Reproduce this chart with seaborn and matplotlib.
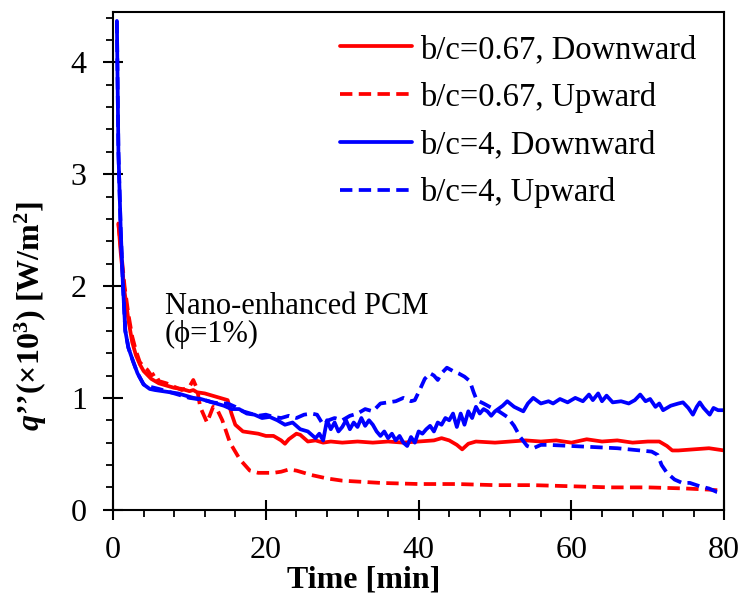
import numpy as np
import pandas as pd
import matplotlib
matplotlib.use("Agg")
import matplotlib.pyplot as plt
from matplotlib.ticker import MultipleLocator
import seaborn as sns

# ---------------- data ----------------
labels = ["b/c=0.67, Downward", "b/c=0.67, Upward", "b/c=4, Downward", "b/c=4, Upward"]

t_rs = [0.7, 1.0, 1.5, 2.0, 2.5, 3.0, 3.5, 4.0, 5.0, 6.0, 7.0, 8.0, 9.0, 10.0, 10.5, 11.0, 12.0, 13.0,
        14.0, 15.0, 15.5, 16.0, 17.0, 18.0, 19.0, 20.0, 21.0, 22.0, 22.5, 23.0, 24.0, 24.5, 25.5, 26.5,
        27.5, 28.5, 30, 32, 34, 36, 38, 40, 42, 43, 44, 45, 45.7, 46.5, 47.5, 50, 52, 54, 56, 58, 60,
        62, 64, 66, 68, 70, 71.5, 72.5, 73.2, 74, 76, 78, 80]
q_rs = [2.56, 2.3, 1.95, 1.7, 1.5, 1.38, 1.3, 1.24, 1.17, 1.13, 1.11, 1.09, 1.08, 1.06, 1.07, 1.05,
        1.04, 1.02, 1.0, 0.98, 0.86, 0.76, 0.7, 0.69, 0.68, 0.66, 0.66, 0.62, 0.59, 0.63, 0.68, 0.67,
        0.61, 0.62, 0.6, 0.61, 0.6, 0.61, 0.6, 0.61, 0.6, 0.61, 0.62, 0.64, 0.62, 0.58, 0.54, 0.59,
        0.61, 0.6, 0.61, 0.62, 0.61, 0.62, 0.6, 0.63, 0.61, 0.62, 0.6, 0.61, 0.61, 0.57, 0.53, 0.53,
        0.54, 0.55, 0.53]

t_rd = [0.7, 1.0, 1.5, 2.0, 2.5, 3.0, 3.5, 4.0, 4.5, 5.0, 5.5, 6.0, 7.0, 8.0, 9.0, 10.0, 10.5, 11.0,
        11.4, 12.3, 13.1, 13.6, 14.3, 15.3, 16.6, 17.9, 19.0, 20.0, 21.0, 22.0, 23.0, 24.0, 26.0, 28.0,
        30, 35, 40, 45, 50, 55, 60, 65, 70, 75, 78, 80]
q_rd = [2.56, 2.35, 2.0, 1.75, 1.55, 1.42, 1.32, 1.28, 1.25, 1.2, 1.22, 1.15, 1.13, 1.1, 1.07, 1.1,
        1.16, 1.08, 0.92, 0.78, 0.92, 0.9, 0.8, 0.6, 0.45, 0.35, 0.33, 0.33, 0.33, 0.34, 0.36, 0.35,
        0.31, 0.28, 0.26, 0.24, 0.23, 0.23, 0.22, 0.22, 0.21, 0.2, 0.2, 0.19, 0.18, 0.17]

t_bs = [0.5, 0.7, 1.0, 1.3, 1.6, 2.0, 2.6, 3.2, 4.0, 4.8, 5.5, 6.5, 7.5, 8.5, 9.5, 10.5, 11.5, 12.5,
        13.5, 14.5, 15.5, 16.5, 17.5, 18.5, 19.5, 20.5, 21.5, 22.5, 23.5, 24.5, 25.5, 26.5, 27.0, 27.5,
        28.0, 28.5, 29.0, 29.5, 30.0, 30.5, 31.0, 31.5, 32.0, 32.5, 33.0, 33.5, 34.0, 34.5, 35.0, 35.5,
        36.0, 36.5, 37.0, 37.5, 38.0, 38.5, 39.0, 39.5, 40.0, 40.5, 41.0, 41.5, 42.0, 42.5, 43.0, 43.5,
        44.0, 44.5, 45.0, 45.5, 46.0, 46.5, 47.0, 47.5, 48.0, 48.5, 49.0, 49.5, 50.0, 51.0, 51.6, 52.5,
        53.7, 54.3, 55.0, 56.0, 57.0, 57.6, 58.5, 59.5, 60.5, 61.5, 62.3, 62.8, 63.5, 64.0, 64.6, 65.4,
        66.5, 67.5, 68.3, 69.0, 69.7, 70.3, 71.0, 71.5, 72.0, 73.0, 74.0, 74.6, 75.3, 75.9, 76.4, 76.8,
        77.3, 78.1, 78.6, 79.2, 80.0]
q_bs = [4.37, 3.2, 2.5, 2.0, 1.6, 1.45, 1.33, 1.22, 1.12, 1.08, 1.07, 1.06, 1.05, 1.04, 1.02, 1.0,
        0.99, 0.97, 0.95, 0.93, 0.9, 0.9, 0.86, 0.85, 0.82, 0.83, 0.8, 0.76, 0.78, 0.72, 0.7, 0.64,
        0.68, 0.62, 0.8, 0.72, 0.78, 0.7, 0.74, 0.8, 0.72, 0.78, 0.74, 0.82, 0.75, 0.8, 0.76, 0.7,
        0.66, 0.7, 0.64, 0.68, 0.62, 0.66, 0.6, 0.57, 0.65, 0.6, 0.7, 0.68, 0.72, 0.75, 0.7, 0.78,
        0.76, 0.82, 0.8, 0.86, 0.74, 0.86, 0.76, 0.88, 0.82, 0.92, 0.86, 0.9, 0.88, 0.84, 0.88, 0.93,
        0.97, 0.92, 0.88, 0.95, 1.0, 0.95, 0.97, 0.95, 0.99, 0.96, 1.0, 0.97, 1.03, 0.98, 1.04, 0.97,
        1.02, 0.96, 0.97, 0.95, 0.98, 1.03, 0.97, 0.99, 0.92, 0.95, 0.89, 0.93, 0.95, 0.96, 0.91, 0.85,
        0.92, 0.96, 0.91, 0.85, 0.91, 0.89, 0.89]

t_bd = [0.5, 0.7, 1.0, 1.3, 1.6, 2.0, 2.6, 3.2, 4.0, 4.8, 6.0, 8.0, 10.0, 12.0, 13.0, 14.0, 15.0,
        16.0, 17.0, 18.0, 19.0, 20.0, 21.0, 22.0, 23.0, 24.0, 25.0, 26.0, 26.7, 27.5, 28.2, 29.0, 30.0,
        31.0, 32.0, 33.0, 34.0, 35.0, 36.0, 37.0, 38.0, 39.0, 39.5, 40.2, 40.8, 41.5, 42.0, 42.5, 43.0,
        43.7, 44.5, 45.2, 46.0, 46.7, 47.2, 47.6, 48.5, 49.3, 50.5, 51.6, 52.5, 53.3, 54.2, 55.0, 56.0,
        57.0, 60.0, 63.0, 66.0, 69.0, 70.5, 71.3, 71.8, 72.5, 73.5, 74.5, 75.5, 76.8, 78.0, 79.0, 80.0]
q_bd = [4.37, 3.2, 2.5, 2.0, 1.6, 1.45, 1.33, 1.22, 1.12, 1.1, 1.08, 1.04, 1.0, 0.98, 0.96, 0.95,
        0.95, 0.92, 0.88, 0.86, 0.84, 0.85, 0.83, 0.82, 0.84, 0.82, 0.85, 0.86, 0.85, 0.76, 0.8, 0.82,
        0.8, 0.84, 0.86, 0.9, 0.88, 0.95, 0.96, 0.97, 1.0, 0.97, 0.98, 1.08, 1.17, 1.22, 1.2, 1.16,
        1.22, 1.27, 1.24, 1.22, 1.19, 1.15, 1.05, 0.98, 0.95, 0.92, 0.88, 0.83, 0.75, 0.65, 0.57, 0.55,
        0.58, 0.58, 0.57, 0.56, 0.55, 0.53, 0.52, 0.49, 0.4, 0.33, 0.27, 0.24, 0.24, 0.21, 0.19, 0.16,
        0.15]

x_ticks = [0, 20, 40, 60, 80]
y_ticks = [0, 1, 2, 3, 4]

# ---------------- build table ----------------
frames = []
for lab, t, q in zip(labels, [t_rs, t_rd, t_bs, t_bd], [q_rs, q_rd, q_bs, q_bd]):
    frames.append(pd.DataFrame({"t": t, "q": q, "series": lab}))
df = pd.concat(frames, ignore_index=True)

sns.set_style("ticks")
plt.rcParams["font.family"] = ["Liberation Serif", "DejaVu Serif"]
plt.rcParams["mathtext.fontset"] = "custom"
plt.rcParams["mathtext.rm"] = "Liberation Serif"
plt.rcParams["mathtext.it"] = "Liberation Serif:italic"
plt.rcParams["mathtext.bf"] = "Liberation Serif:bold"
plt.rcParams["mathtext.bfit"] = "Liberation Serif:bold:italic"
for k in ["text.color", "axes.labelcolor", "xtick.color", "ytick.color", "axes.edgecolor"]:
    plt.rcParams[k] = "black"

fig = plt.figure(figsize=(7.39, 5.99), dpi=100)
ax = fig.add_axes([0.153, 0.149, 0.827, 0.831])

palette = {labels[0]: "#FF0000", labels[1]: "#FF0000", labels[2]: "#0000FF", labels[3]: "#0000FF"}
dashes = {labels[0]: "", labels[1]: (3.3, 1.7), labels[2]: "", labels[3]: (3.3, 1.7)}
sns.lineplot(data=df, x="t", y="q", hue="series", style="series", palette=palette,
             dashes=dashes, hue_order=labels, style_order=labels, estimator=None,
             sort=False, lw=2.7, ax=ax)

ax.set_xlim(0, 80)
ax.set_ylim(0, 4.45)
ax.set_xticks(x_ticks)
ax.set_yticks(y_ticks)
ax.xaxis.set_minor_locator(MultipleLocator(4))
ax.yaxis.set_minor_locator(MultipleLocator(0.2))
for s in ax.spines.values():
    s.set_linewidth(1.5)
    s.set_color("black")
ax.tick_params(axis="both", which="major", direction="inout", length=14, width=1.5,
               labelsize=23, pad=12, colors="black")
ax.tick_params(axis="both", which="minor", direction="out", length=5, width=1.3)

ax.set_xlabel("Time [min]", fontsize=23, fontweight="bold")
ax.set_ylabel(r"$\mathbfit{q}$’’(×10$^{\mathbf{3}}$) [W/m$^{\mathbf{2}}$]", fontsize=23,
              fontweight="bold")
ax.xaxis.set_label_coords(0.41, -0.112)
ax.yaxis.set_label_coords(-0.105, 0.39)

ax.text(6.8, 1.75, "Nano-enhanced PCM", fontsize=22, va="baseline", ha="left")
ax.text(6.8, 1.5, "(ϕ=1%)", fontsize=22, va="baseline", ha="left")

ax.legend(loc="upper left", bbox_to_anchor=(0.372, 0.955), frameon=False, fontsize=23.5,
          handlelength=2.2, handletextpad=0.25, labelspacing=0.52, borderpad=0,
          borderaxespad=0)

fig.savefig("out.png", dpi=100)
